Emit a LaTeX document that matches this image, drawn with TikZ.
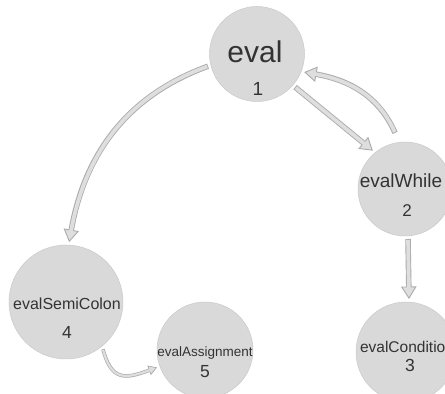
\documentclass[tikz,border=0pt]{standalone}
\usepackage{fontspec}
\setmainfont{Liberation Sans}
\usetikzlibrary{arrows.meta}
\definecolor{circfill}{HTML}{D9D9D9}
\definecolor{circedge}{HTML}{C9C9C9}
\definecolor{arrowedge}{HTML}{ABABAB}
\definecolor{arrowfill}{HTML}{DEDEDE}
\definecolor{txt}{HTML}{333333}
\begin{document}
\begin{tikzpicture}[x=1pt,y=1pt,
  bubble/.style={circle, fill=circfill, draw=circedge, line width=0.5pt, inner sep=0pt, outer sep=3pt},
  lbl/.style={text=txt, inner sep=0pt, anchor=center},
  harrow/.style={draw=arrowedge, line width=5.5pt,
    -{Triangle[length=12.5pt,width=15.5pt,fill=arrowfill,line width=0.9pt]},
    postaction={draw=arrowfill, line width=3.7pt, -, shorten >=10.5pt, shorten <=0.9pt}},
  sarrow/.style={draw=arrowedge, line width=3.6pt,
    -{Triangle[length=8.5pt,width=10pt,fill=arrowfill,line width=0.7pt]},
    postaction={draw=arrowfill, line width=2.2pt, -, shorten >=7pt, shorten <=0.7pt}}
]
\useasboundingbox (0,0) rectangle (445,394);
\clip (0,0) rectangle (445,394);

% circles
\node[bubble, minimum size=95pt]  (e) at (257,340) {};
\node[bubble, minimum size=94pt]  (w) at (405,205) {};
\node[bubble, minimum size=100pt] (c) at (406,42) {};
\node[bubble, minimum size=114pt] (s) at (66,92) {};
\node[bubble, minimum size=96pt]  (a) at (205,44) {};

% labels
\node[lbl, font=\fontsize{30}{30}\selectfont] (eName) at (255,342) {eval};
\node[lbl, font=\fontsize{19}{19}\selectfont] (eNum)  at (258,305) {1};
\node[lbl, font=\fontsize{19}{19}\selectfont] (wName) at (401,213) {evalWhile};
\node[lbl, font=\fontsize{17}{17}\selectfont] (wNum)  at (407,183) {2};
\node[lbl, font=\fontsize{15.5}{15.5}\selectfont] (cName) at (407,47) {evalCondition};
\node[lbl, font=\fontsize{17.5}{17.5}\selectfont] (cNum)  at (410,29) {3};
\node[lbl, font=\fontsize{16}{16}\selectfont] (sName) at (67,90) {evalSemiColon};
\node[lbl, font=\fontsize{17.5}{17.5}\selectfont] (sNum)  at (67,62) {4};
\node[lbl, font=\fontsize{13.5}{13.5}\selectfont] (aName) at (205,41) {evalAssignment};
\node[lbl, font=\fontsize{17.5}{17.5}\selectfont] (aNum)  at (205,22) {5};

% connectors
\draw[harrow] (e.194) to[out=200, in=80] (s.87);
\draw[harrow] (e.-41) -- (w.130);
\draw[harrow] ([shift={(100:7)}]w.100) to[out=114, in=-10] (e.-21);
\draw[harrow] ([xshift=3pt]w.south) -- ([xshift=3pt]c.north);
\draw[sarrow] (s.-52) to[out=-75, in=200, looseness=1.5] (a.200);
\end{tikzpicture}
\end{document}
